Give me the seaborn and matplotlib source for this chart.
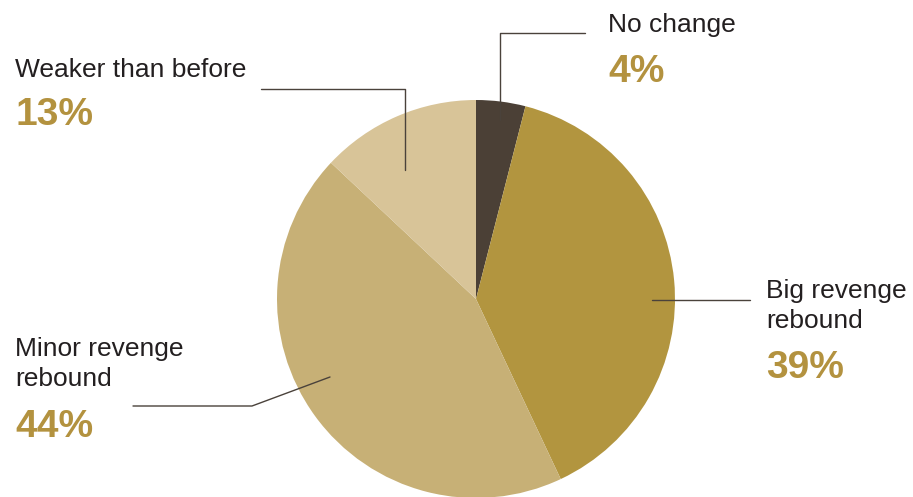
import matplotlib
matplotlib.use("Agg")
import matplotlib.pyplot as plt
import seaborn as sns

sns.set_theme(style="white")
plt.rcParams['font.family'] = ['Liberation Sans', 'DejaVu Sans']

categories = ["No change", "Big revenge rebound", "Minor revenge rebound", "Weaker than before"]
values = [4, 39, 44, 13]
labels_text = ["No change", "Big revenge\nrebound", "Minor revenge\nrebound", "Weaker than before"]
pct_labels = ["4%", "39%", "44%", "13%"]
colors = ["#4b4036", "#b2953f", "#c7b076", "#d8c498"]

W, H = 913, 497
fig = plt.figure(figsize=(W / 100, H / 100), dpi=100)
fig.patch.set_facecolor("white")

cx, cy, r = 476, 299, 199
ax = fig.add_axes([(cx - r) / W, (H - cy - r) / H, 2 * r / W, 2 * r / H])
ax.pie(values, colors=colors, startangle=90, counterclock=False,
       wedgeprops=dict(linewidth=0), radius=1)
ax.set_xlim(-1, 1)
ax.set_ylim(-1, 1)
ax.set_aspect("equal")
ax.axis("off")

ov = fig.add_axes([0, 0, 1, 1], facecolor="none")
ov.set_xlim(0, W)
ov.set_ylim(H, 0)
ov.axis("off")

line_col = "#4a423b"
lw = 1.0
# leader lines
ov.plot([500, 500, 585], [120, 33, 33], color=line_col, lw=lw)
ov.plot([261, 405, 405], [89, 89, 170], color=line_col, lw=lw)
ov.plot([652, 750], [300, 300], color=line_col, lw=lw)
ov.plot([330, 252, 133], [377, 406, 406], color=line_col, lw=lw)

txt_col = "#231f20"
pct_col = "#b3923f"
fs = 19.0
pfs = 28.0

label_pos = [(608, 32), (766, 328), (15, 386), (15, 77)]
pct_pos = [(608, 82), (766, 378), (15, 437), (15, 125)]
for (lx, ly), (px, py), t, p in zip(label_pos, pct_pos, labels_text, pct_labels):
    ov.text(lx, ly, t, fontsize=fs, color=txt_col, ha="left", va="baseline",
            linespacing=1.3)
    ov.text(px, py, p, fontsize=pfs, color=pct_col, ha="left", va="baseline",
            fontweight="bold")

fig.savefig("out.png", dpi=100)
